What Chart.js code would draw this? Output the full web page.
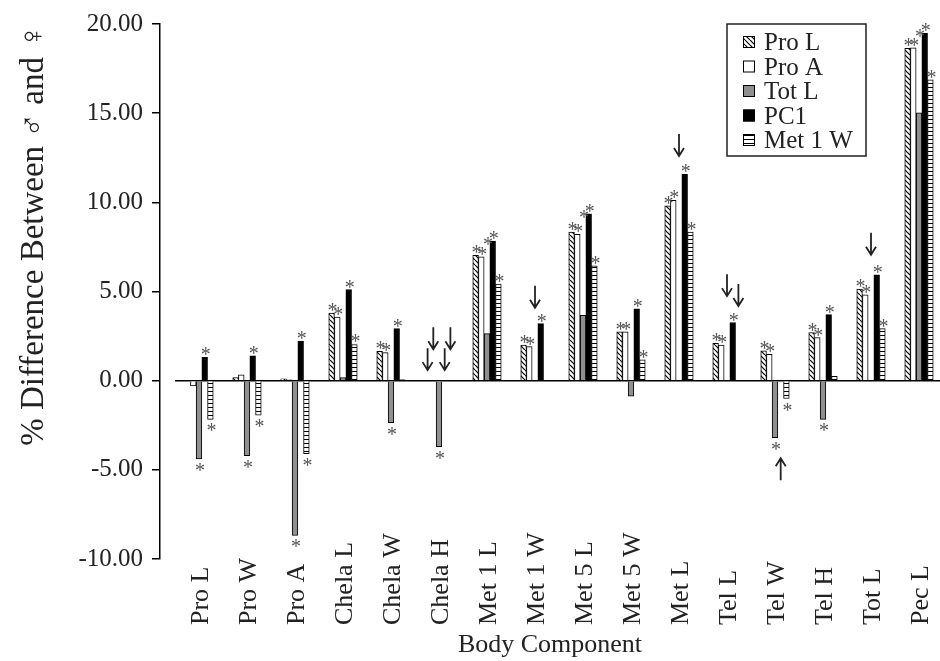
<!DOCTYPE html>
<html>
<head>
<meta charset="utf-8">
<script src="https://cdn.jsdelivr.net/npm/chart.js@4.4.1/dist/chart.umd.min.js"></script>
<style>
  html, body { margin: 0; padding: 0; background: #fff; }
  #wrap { width: 940px; height: 661px; }
</style>
</head>
<body>
<div id="wrap"><canvas id="chart"></canvas></div>
<script>
// Body components on the x axis
const categories = ['Pro L', 'Pro W', 'Pro A', 'Chela L', 'Chela W', 'Chela H', 'Met 1 L', 'Met 1 W',
                    'Met 5 L', 'Met 5 W', 'Met L', 'Tel L', 'Tel W', 'Tel H', 'Tot L', 'Pec L'];
const seriesNames = ['Pro L', 'Pro A', 'Tot L', 'PC1', 'Met 1 W'];

// % difference between males and females
const proL  = [0, 0.18, 0.10, 3.79, 1.64, 0, 7.03, 2.00, 8.33, 2.74, 9.81, 2.09, 1.68, 2.70, 5.14, 18.63];
const proA  = [-0.30, 0.33, 0.05, 3.57, 1.57, 0, 6.94, 1.91, 8.20, 2.74, 10.11, 2.00, 1.48, 2.41, 4.81, 18.67];
const totL  = [-4.39, -4.20, -8.68, 0.18, -2.35, -3.70, 2.64, 0, 3.67, -0.87, 0, 0, -3.19, -2.17, 0, 15.02];
const pc1   = [1.31, 1.39, 2.22, 5.11, 2.92, 0, 7.83, 3.20, 9.35, 4.03, 11.57, 3.26, 0, 3.70, 5.94, 19.47];
const met1W = [-2.17, -1.93, -4.10, 2.03, 0.05, 0, 5.42, 0, 6.44, 1.17, 8.33, 0, -1.00, 0.24, 2.92, 16.87];

// significance asterisks (1 = marked)
const sigProL  = [0, 0, 0, 1, 1, 0, 1, 1, 1, 1, 1, 1, 1, 1, 1, 1];
const sigProA  = [0, 0, 0, 1, 1, 0, 1, 1, 1, 1, 1, 1, 1, 1, 1, 1];
const sigTotL  = [1, 1, 1, 0, 1, 1, 1, 0, 1, 0, 0, 0, 1, 1, 0, 1];
const sigPc1   = [1, 1, 1, 1, 1, 0, 1, 1, 1, 1, 1, 1, 0, 1, 1, 1];
const sigMet1W = [1, 1, 1, 1, 0, 0, 1, 0, 1, 1, 1, 0, 1, 0, 1, 1];

// arrows marking missing bars: [category, series, direction, tip value]
const arrowMarks = [
  [5, 0, 'down', 0.59], [5, 1, 'down', 1.76], [5, 3, 'down', 0.59], [5, 4, 'down', 1.76],
  [7, 2, 'down', 4.09], [10, 2, 'down', 12.6], [11, 2, 'down', 4.74], [11, 4, 'down', 4.19],
  [12, 3, 'up', -4.35], [14, 2, 'down', 7.06]
];

const yTickStep = 5;

const seriesValues = [proL, proA, totL, pc1, met1W];
const significance = [sigProL, sigProA, sigTotL, sigPc1, sigMet1W];

const SERIF = '"Liberation Serif", "DejaVu Serif", serif';

function makeHatch() {
  const c = document.createElement('canvas');
  c.width = 5; c.height = 5;
  const g = c.getContext('2d');
  g.fillStyle = '#fff';
  g.fillRect(0, 0, 5, 5);
  g.strokeStyle = '#000';
  g.lineWidth = 1.2;
  for (const k of [-5, 0, 5]) {
    g.beginPath();
    g.moveTo(k, 0);
    g.lineTo(k + 5, 5);
    g.stroke();
  }
  return g.createPattern(c, 'repeat');
}

function makeLines() {
  const c = document.createElement('canvas');
  c.width = 4; c.height = 4;
  const g = c.getContext('2d');
  g.fillStyle = '#fff';
  g.fillRect(0, 0, 4, 4);
  g.fillStyle = '#000';
  g.fillRect(0, 3, 4, 1);
  return g.createPattern(c, 'repeat');
}

const fills = [makeHatch(), '#ffffff', '#8f8f8f', '#000000', makeLines()];

// zero line starts at the first group, not at the axis
const zeroLine = {
  id: 'zeroLine',
  beforeDatasetsDraw(chart) {
    const { ctx, chartArea, scales } = chart;
    const y0 = scales.y.getPixelForValue(0);
    ctx.save();
    ctx.strokeStyle = '#000';
    ctx.lineWidth = 1.5;
    ctx.beginPath();
    ctx.moveTo(scales.x.getPixelForValue(-0.5), y0);
    ctx.lineTo(chartArea.right, y0);
    ctx.stroke();
    ctx.restore();
  }
};

const marks = {
  id: 'marks',
  afterDatasetsDraw(chart) {
    const ctx = chart.ctx;
    const yScale = chart.scales.y;
    ctx.save();
    // asterisks
    ctx.font = '20px ' + SERIF;
    ctx.fillStyle = '#555';
    ctx.textAlign = 'center';
    ctx.textBaseline = 'alphabetic';
    significance.forEach((sig, d) => {
      const meta = chart.getDatasetMeta(d);
      sig.forEach((s, i) => {
        if (!s) return;
        const el = meta.data[i];
        const v = seriesValues[d][i];
        if (v >= 0) {
          let top = el.y;
          if (d === 2) {
            // Tot L stars sit level with the taller neighbour
            top = Math.min(top, chart.getDatasetMeta(1).data[i].y, chart.getDatasetMeta(3).data[i].y) + 6;
          }
          ctx.fillText('*', el.x + 1, top + 4);
        } else {
          ctx.fillText('*', el.x + 1, el.y + 18);
        }
      });
    });
    // arrows
    ctx.strokeStyle = '#222';
    ctx.lineWidth = 1.8;
    arrowMarks.forEach(([i, d, dir, tip]) => {
      const x = chart.getDatasetMeta(d).data[i].x;
      const ty = yScale.getPixelForValue(tip);
      const s = dir === 'down' ? -1 : 1;
      ctx.beginPath();
      ctx.moveTo(x, ty + s * 22);
      ctx.lineTo(x, ty);
      ctx.moveTo(x - 5, ty + s * 8);
      ctx.lineTo(x, ty);
      ctx.lineTo(x + 5, ty + s * 8);
      ctx.stroke();
    });
    ctx.restore();
  },
  afterDraw(chart) {
    const ctx = chart.ctx;
    const xs = chart.scales.x;
    ctx.save();
    // category labels, bottom aligned
    ctx.font = '26px ' + SERIF;
    ctx.fillStyle = '#222';
    ctx.textAlign = 'left';
    ctx.textBaseline = 'alphabetic';
    categories.forEach((c, i) => {
      ctx.save();
      ctx.translate(xs.getPixelForValue(i) + 9, 625);
      ctx.rotate(-Math.PI / 2);
      ctx.fillText(c, 0, 0);
      ctx.restore();
    });
    // legend box
    const bx = 727, by = 24, bw = 139, bh = 132;
    ctx.fillStyle = '#fff';
    ctx.fillRect(bx, by, bw, bh);
    ctx.strokeStyle = '#222';
    ctx.lineWidth = 1.5;
    ctx.strokeRect(bx, by, bw, bh);
    ctx.font = '25px ' + SERIF;
    chart.data.datasets.forEach((ds, k) => {
      const cy = 42 + k * 24.5;
      ctx.fillStyle = ds.backgroundColor;
      ctx.fillRect(743, cy - 6, 12, 12);
      ctx.lineWidth = 1;
      ctx.strokeStyle = '#000';
      ctx.strokeRect(743.5, cy - 5.5, 11, 11);
      ctx.fillStyle = '#222';
      ctx.fillText(ds.label, 764, cy + 8);
    });
    ctx.restore();
  }
};

const ctx = document.getElementById('chart').getContext('2d');
new Chart(ctx, {
  type: 'bar',
  data: {
    datasets: seriesNames.map((name, d) => ({
      label: name,
      data: seriesValues[d].map((v, i) => ({ x: i, y: v })),
      backgroundColor: fills[d],
      borderColor: '#000',
      borderWidth: 1,
      barThickness: 5.7
    }))
  },
  options: {
    responsive: true,
    maintainAspectRatio: false,
    devicePixelRatio: 1,
    animation: false,
    layout: { padding: { top: 18, left: 0, right: 0, bottom: 0 } },
    plugins: {
      legend: { display: false },
      tooltip: { enabled: false }
    },
    scales: {
      x: {
        type: 'linear',
        offset: false,
        bounds: 'data',
        min: -0.8125,
        max: 15.4375,
        grid: { display: false },
        border: { display: false },
        ticks: { display: false, stepSize: 1, includeBounds: false },
        title: {
          display: true,
          text: 'Body Component',
          color: '#222',
          font: { family: SERIF, size: 26 },
          padding: { top: 0, bottom: 0 }
        },
        afterFit(scale) { scale.height = 102; }
      },
      y: {
        min: -10,
        max: 20,
        grid: { display: true, drawOnChartArea: false, drawTicks: true, tickLength: 8, color: '#000', lineWidth: 1.5 },
        border: { display: true, color: '#000', width: 1.5 },
        ticks: {
          stepSize: yTickStep,
          padding: 9,
          color: '#222',
          font: { family: SERIF, size: 25 },
          callback: v => v.toFixed(2)
        },
        title: {
          display: true,
          text: '% Difference Between ♂ and ♀',
          align: 'end',
          color: '#222',
          font: { family: SERIF, size: 33 },
          padding: { top: 15, bottom: 0 }
        },
        afterFit(scale) { scale.width = 160; }
      }
    }
  },
  plugins: [zeroLine, marks]
});
</script>
</body>
</html>
